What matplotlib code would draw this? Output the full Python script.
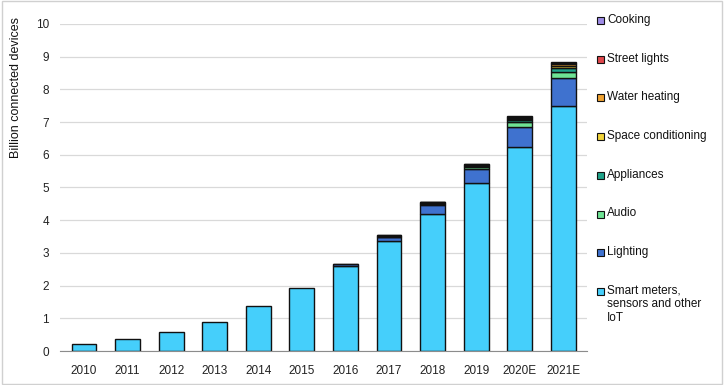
import numpy as np
import matplotlib
matplotlib.use("Agg")
import matplotlib.pyplot as plt
from matplotlib.patches import Rectangle

plt.rcParams["font.family"] = ["Liberation Sans", "DejaVu Sans"]

years = ["2010", "2011", "2012", "2013", "2014", "2015", "2016", "2017", "2018", "2019", "2020E", "2021E"]

# billion devices per category
smart = [0.23, 0.37, 0.57, 0.90, 1.37, 1.93, 2.60, 3.38, 4.20, 5.15, 6.25, 7.49]
lighting = [0.00, 0.00, 0.00, 0.00, 0.00, 0.00, 0.06, 0.10, 0.25, 0.40, 0.60, 0.85]
audio = [0.00, 0.00, 0.00, 0.00, 0.00, 0.00, 0.00, 0.02, 0.04, 0.07, 0.15, 0.20]
appliances = [0.00, 0.00, 0.00, 0.00, 0.00, 0.00, 0.00, 0.01, 0.02, 0.03, 0.06, 0.12]
space_cond = [0.00, 0.00, 0.00, 0.00, 0.00, 0.00, 0.01, 0.01, 0.02, 0.02, 0.04, 0.06]
water_heat = [0.00, 0.00, 0.00, 0.00, 0.00, 0.00, 0.00, 0.01, 0.02, 0.02, 0.03, 0.04]
street = [0.00, 0.00, 0.00, 0.00, 0.00, 0.00, 0.00, 0.01, 0.01, 0.02, 0.03, 0.04]
cooking = [0.00, 0.00, 0.00, 0.00, 0.00, 0.00, 0.00, 0.01, 0.01, 0.01, 0.02, 0.05]

series = [
    ("Smart meters,\nsensors and other\nIoT", smart, "#45CFFB"),
    ("Lighting", lighting, "#3F72CF"),
    ("Audio", audio, "#6EE394"),
    ("Appliances", appliances, "#1FA38A"),
    ("Space conditioning", space_cond, "#F2D43A"),
    ("Water heating", water_heat, "#F0A332"),
    ("Street lights", street, "#E0474C"),
    ("Cooking", cooking, "#9E8CE6"),
]

fig = plt.figure(figsize=(7.24, 3.85), dpi=100)
ax = fig.add_axes([0.083, 0.088, 0.728, 0.85])

x = np.arange(len(years))
bottom = np.zeros(len(years))
for name, vals, col in series:
    vals = np.array(vals)
    m = vals > 0
    ax.bar(x[m], vals[m], 0.57, bottom=bottom[m], color=col, edgecolor="#111111",
           linewidth=1.0, label=name)
    bottom += vals

ax.set_xlim(-0.55, 11.55)
ax.set_ylim(0, 10)
ax.set_yticks(range(0, 11))
ax.set_xticks(x)
ax.set_xticklabels(years)
ax.tick_params(axis="both", labelsize=8.5, colors="#222222", length=0)
ax.tick_params(axis="x", pad=10)
ax.tick_params(axis="y", pad=8)
ax.yaxis.grid(True, color="#D9D9D9", linewidth=0.9)
ax.set_axisbelow(True)
for s in ["top", "right", "left"]:
    ax.spines[s].set_visible(False)
ax.spines["bottom"].set_color("#8C8C8C")

W, H = 724.0, 385.0
# axis title sits at the top, not centred
fig.text(16 / W, 1 - 17 / H, "Billion connected devices", fontsize=9,
         rotation=90, va="top", ha="center", color="#111111")

# legend drawn by hand so the multi-line entry lines up on its first line
for i, (name, vals, col) in enumerate(series[::-1]):
    yc = 20.5 + i * 38.7
    fig.add_artist(Rectangle((597 / W, 1 - (yc + 3.5) / H), 7 / W, 7 / H,
                             transform=fig.transFigure, facecolor=col,
                             edgecolor="#111111", linewidth=0.8))
    fig.text(607 / W, 1 - (yc - 6.5) / H, name, fontsize=8.5, color="#111111",
             va="top", ha="left", linespacing=1.15)

fig.add_artist(Rectangle((0.003, 0.003), 0.994, 0.994, transform=fig.transFigure,
                         fill=False, edgecolor="#D0D0D0", linewidth=1))

fig.savefig("out.png", dpi=100)
